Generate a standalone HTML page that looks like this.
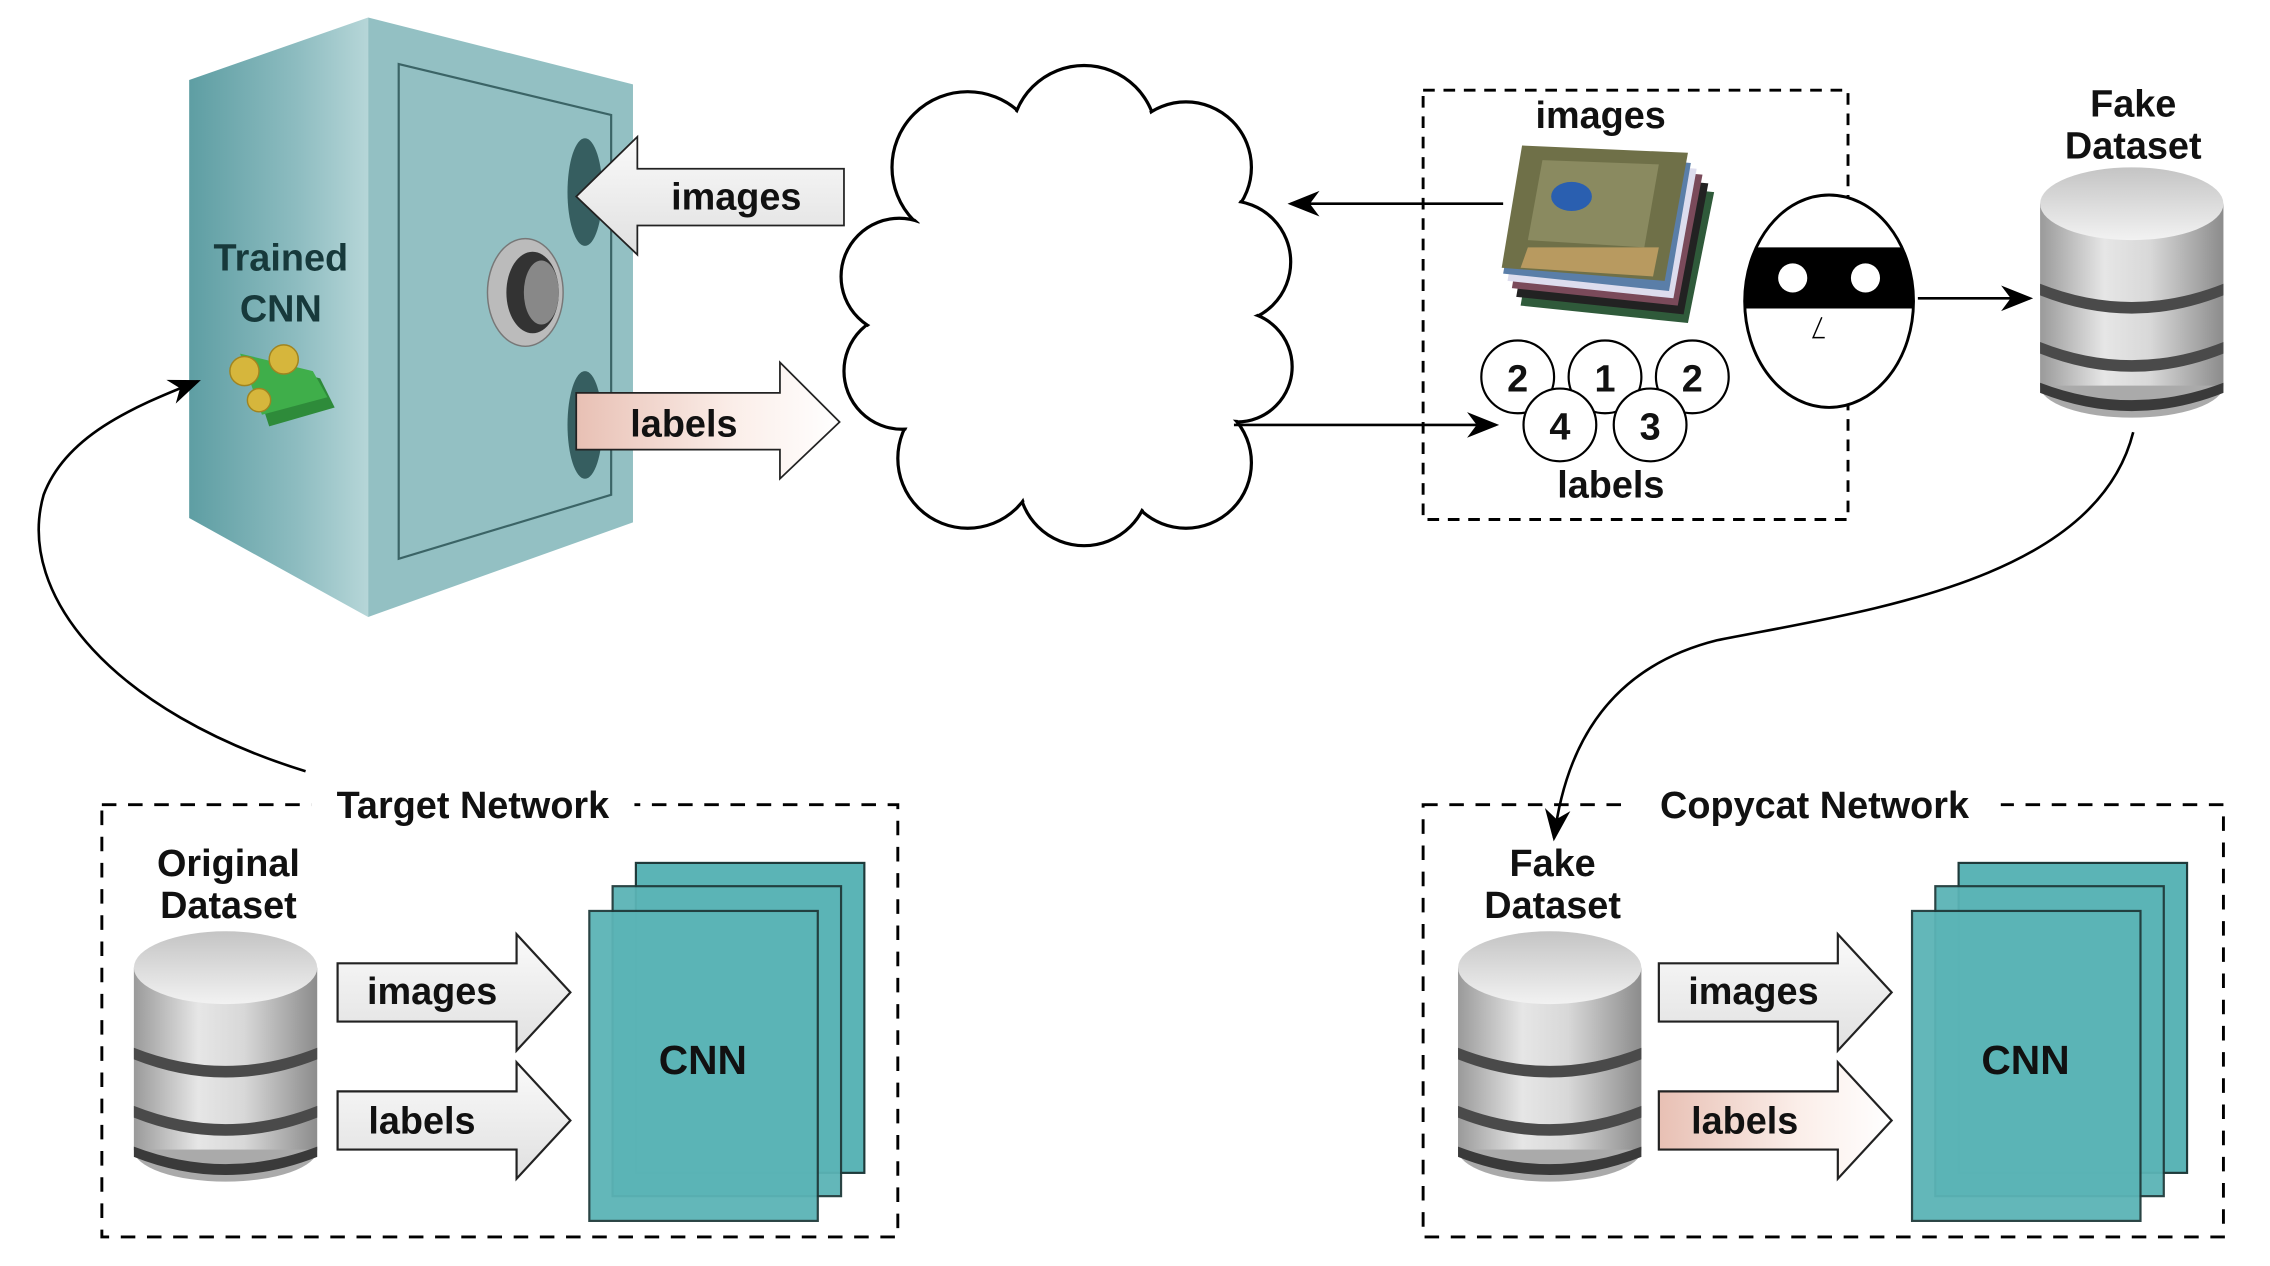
<!DOCTYPE html>
<html><head><meta charset="utf-8">
<style>
html,body{margin:0;padding:0;background:#fff;}
svg{display:block;}
text{font-family:"Liberation Sans",Arial,sans-serif;font-weight:bold;}
</style></head>
<body>
<svg width="2270" height="1266" viewBox="0 0 1560 870" preserveAspectRatio="none" xmlns="http://www.w3.org/2000/svg">
<defs>
  <linearGradient id="side" x1="0" x2="1" y1="0" y2="0">
    <stop offset="0" stop-color="#5e9ea3"/><stop offset="0.6" stop-color="#8dbcc0"/><stop offset="1" stop-color="#b6d6d8"/>
  </linearGradient>
  <linearGradient id="cyl" x1="0" x2="1" y1="0" y2="0">
    <stop offset="0" stop-color="#9a9a9a"/><stop offset="0.35" stop-color="#e6e6e6"/><stop offset="0.6" stop-color="#d8d8d8"/><stop offset="1" stop-color="#8c8c8c"/>
  </linearGradient>
  <linearGradient id="cyltop" x1="0" x2="0" y1="0" y2="1">
    <stop offset="0" stop-color="#c4c4c4"/><stop offset="1" stop-color="#f2f2f2"/>
  </linearGradient>
  <linearGradient id="arrG" x1="0" x2="0" y1="0" y2="1">
    <stop offset="0" stop-color="#fafafa"/><stop offset="1" stop-color="#e0e0e0"/>
  </linearGradient>
  <linearGradient id="arrP" x1="0" x2="1" y1="0" y2="0">
    <stop offset="0" stop-color="#e8c0b4"/><stop offset="0.6" stop-color="#fbeee9"/><stop offset="1" stop-color="#ffffff"/>
  </linearGradient>
  <marker id="ah" viewBox="0 0 10 10" refX="9" refY="5" markerWidth="8" markerHeight="8" orient="auto-start-reverse" markerUnits="userSpaceOnUse">
    <path d="M0,0 L10,5 L0,10 L3,5 z" fill="#000"/>
  </marker>
  <marker id="ah2" viewBox="0 0 10 10" refX="9" refY="5" markerWidth="22" markerHeight="22" orient="auto" markerUnits="userSpaceOnUse">
    <path d="M0,1 L10,5 L0,9 L3,5 z" fill="#000"/>
  </marker>
  <g id="db">
    <ellipse cx="63" cy="150" rx="63" ry="22" fill="#555" opacity="0.5"/>
    <rect x="0" y="25" width="126" height="125" fill="url(#cyl)"/>
    <path d="M0,80 Q63,105 126,80 L126,88 Q63,113 0,88 z" fill="#4a4a4a"/>
    <path d="M0,120 Q63,145 126,120 L126,128 Q63,153 0,128 z" fill="#4a4a4a"/>
    <path d="M0,148 Q63,172 126,148 L126,155 Q63,180 0,155 z" fill="#3a3a3a"/>
    <ellipse cx="63" cy="25" rx="63" ry="25" fill="url(#cyltop)"/>
  </g>
  <g id="arrow2">
    <path d="M0,20 L123,20 L123,0 L160,40 L123,80 L123,60 L0,60 z" fill="url(#arrG)" stroke="#222" stroke-width="1.5"/>
  </g>
  <g id="cnn">
    <rect x="32" y="0" width="157" height="213" fill="#5bb4b6" stroke="#1f3a3a" stroke-width="1.5"/>
    <rect x="16" y="16" width="157" height="213" fill="#5bb4b6" stroke="#1f3a3a" stroke-width="1.5" opacity="0.95"/>
    <rect x="0" y="33" width="157" height="213" fill="#5bb4b6" stroke="#1f3a3a" stroke-width="1.5" opacity="0.95"/>
  </g>
</defs>

<!-- Safe -->
<polygon points="130,55 253,12 253,424 130,356" fill="url(#side)"/>
<polygon points="253,12 435,58 435,359 253,424" fill="#93c0c3"/>
<polygon points="274,44 420,79 420,340 274,384" fill="none" stroke="#3b6466" stroke-width="1.5"/>
<ellipse cx="402" cy="132" rx="12" ry="37" fill="#365e60"/>
<ellipse cx="402" cy="292" rx="12" ry="37" fill="#365e60"/>
<ellipse cx="361" cy="201" rx="26" ry="37" fill="#bbb" stroke="#777"/>
<ellipse cx="366" cy="201" rx="18" ry="28" fill="#333"/>
<ellipse cx="372" cy="201" rx="12" ry="22" fill="#888"/>
<text x="193" y="186" font-size="26" fill="#17393b" text-anchor="middle">Trained</text>
<text x="193" y="221" font-size="26" fill="#17393b" text-anchor="middle">CNN</text>
<!-- money -->
<g transform="translate(190,265)">
  <polygon points="-20,-18 30,-5 40,15 -5,28" fill="#2e8b3a"/>
  <polygon points="-25,-22 25,-10 35,8 -10,20" fill="#3fae4a"/>
  <circle cx="-22" cy="-10" r="10" fill="#d6b63c" stroke="#a08420"/>
  <circle cx="5" cy="-18" r="10" fill="#d6b63c" stroke="#a08420"/>
  <circle cx="-12" cy="10" r="8" fill="#d6b63c" stroke="#a08420"/>
</g>
<!-- big arrows on safe -->
<path d="M396,135 L438,94 L438,116 L580,116 L580,155 L438,155 L438,175 z" fill="url(#arrG)" stroke="#222" stroke-width="1.2"/>
<text x="506" y="144" font-size="26" text-anchor="middle" fill="#111">images</text>
<path d="M396,270 L536,270 L536,249 L577,290 L536,329 L536,309 L396,309 z" fill="url(#arrP)" stroke="#222" stroke-width="1.2"/>
<text x="470" y="300" font-size="26" text-anchor="middle" fill="#111">labels</text>

<!-- curved arrow left -->
<path d="M210,530 C80,490 10,410 30,340 C45,300 90,280 136,262" fill="none" stroke="#000" stroke-width="1.8" marker-end="url(#ah2)"/>

<!-- cloud -->
<g stroke="#000" stroke-width="2.2" fill="#fff">
  <circle cx="665" cy="115" r="52"/><circle cx="745" cy="95" r="50"/><circle cx="815" cy="115" r="45"/>
  <circle cx="845" cy="180" r="42"/><circle cx="850" cy="252" r="38"/><circle cx="815" cy="318" r="45"/>
  <circle cx="745" cy="330" r="45"/><circle cx="665" cy="315" r="48"/><circle cx="620" cy="255" r="40"/>
  <circle cx="618" cy="190" r="40"/>
</g>
<g fill="#fff">
  <circle cx="665" cy="115" r="50.5"/><circle cx="745" cy="95" r="48.5"/><circle cx="815" cy="115" r="43.5"/>
  <circle cx="845" cy="180" r="40.5"/><circle cx="850" cy="252" r="36.5"/><circle cx="815" cy="318" r="43.5"/>
  <circle cx="745" cy="330" r="43.5"/><circle cx="665" cy="315" r="46.5"/><circle cx="620" cy="255" r="38.5"/>
  <circle cx="618" cy="190" r="38.5"/><circle cx="735" cy="215" r="120"/>
</g>

<!-- connectors top right -->
<line x1="1033" y1="140" x2="887" y2="140" stroke="#000" stroke-width="1.8" marker-end="url(#ah2)"/>
<line x1="848" y1="292" x2="1028" y2="292" stroke="#000" stroke-width="1.8" marker-end="url(#ah2)"/>
<rect x="978" y="62" width="292" height="295" fill="none" stroke="#000" stroke-width="2" stroke-dasharray="8,6"/>
<text x="1100" y="88" font-size="26" text-anchor="middle" fill="#111">images</text>
<!-- image stack -->
<g>
  <polygon points="1060,120 1178,132 1160,222 1045,210" fill="#2f5a3a"/>
  <polygon points="1057,115 1174,126 1157,216 1042,204" fill="#222"/>
  <polygon points="1054,110 1170,120 1153,210 1039,198" fill="#7a4a5a"/>
  <polygon points="1051,106 1166,116 1150,205 1036,193" fill="#dde"/>
  <polygon points="1048,102 1162,112 1147,200 1033,188" fill="#5a7ea8"/>
  <polygon points="1046,100 1160,105 1144,193 1032,184" fill="#6f7048"/>
  <polygon points="1060,110 1140,113 1130,170 1050,165" fill="#8a8a60"/>
  <ellipse cx="1080" cy="135" rx="14" ry="10" fill="#2a5fb0"/>
  <polygon points="1050,170 1140,170 1136,190 1045,184" fill="#b89a60"/>
</g>
<g stroke="#000" stroke-width="1.5" fill="#fff" font-size="26">
  <circle cx="1043" cy="259" r="25"/><circle cx="1103" cy="259" r="25"/><circle cx="1163" cy="259" r="25"/>
  <circle cx="1072" cy="292" r="25"/><circle cx="1134" cy="292" r="25"/>
</g>
<g font-size="26" text-anchor="middle" fill="#111">
  <text x="1043" y="269">2</text><text x="1103" y="269">1</text><text x="1163" y="269">2</text>
  <text x="1072" y="302">4</text><text x="1134" y="302">3</text>
  <text x="1107" y="342">labels</text>
</g>
<!-- thief face -->
<ellipse cx="1257" cy="207" rx="58" ry="73" fill="#fff" stroke="#000" stroke-width="2"/>
<clipPath id="fc"><ellipse cx="1257" cy="207" rx="58" ry="73"/></clipPath>
<rect x="1195" y="170" width="125" height="42" fill="#000" clip-path="url(#fc)"/>
<circle cx="1232" cy="191" r="10" fill="#fff"/><circle cx="1282" cy="191" r="10" fill="#fff"/>
<path d="M1252,218 L1246,232 L1254,232" fill="none" stroke="#000" stroke-width="1"/>
<line x1="1318" y1="205" x2="1395" y2="205" stroke="#000" stroke-width="1.8" marker-end="url(#ah2)"/>
<text x="1466" y="80" font-size="26" text-anchor="middle" fill="#111">Fake</text>
<text x="1466" y="109" font-size="26" text-anchor="middle" fill="#111">Dataset</text>
<use href="#db" x="1402" y="115"/>
<!-- curve right -->
<path d="M1466,297 C1440,400 1280,420 1180,440 C1100,460 1075,520 1068,576" fill="none" stroke="#000" stroke-width="1.8" marker-end="url(#ah2)"/>

<!-- Target network -->
<rect x="70" y="553" width="547" height="297" fill="none" stroke="#000" stroke-width="2" stroke-dasharray="10,8"/>
<rect x="214" y="535" width="222" height="32" fill="#fff"/>
<text x="325" y="562" font-size="26" text-anchor="middle" fill="#111">Target Network</text>
<text x="157" y="602" font-size="26" text-anchor="middle" fill="#111">Original</text>
<text x="157" y="631" font-size="26" text-anchor="middle" fill="#111">Dataset</text>
<use href="#db" x="92" y="640"/>
<use href="#arrow2" x="232" y="642"/>
<text x="297" y="690" font-size="26" text-anchor="middle" fill="#111">images</text>
<use href="#arrow2" x="232" y="730"/>
<text x="290" y="779" font-size="26" text-anchor="middle" fill="#111">labels</text>
<use href="#cnn" x="405" y="593"/>
<text x="483" y="738" font-size="28" text-anchor="middle" fill="#111">CNN</text>

<!-- Copycat network -->
<rect x="978" y="553" width="550" height="297" fill="none" stroke="#000" stroke-width="2" stroke-dasharray="10,8"/>
<rect x="1120" y="535" width="255" height="32" fill="#fff"/>
<text x="1247" y="562" font-size="26" text-anchor="middle" fill="#111">Copycat Network</text>
<text x="1067" y="602" font-size="26" text-anchor="middle" fill="#111">Fake</text>
<text x="1067" y="631" font-size="26" text-anchor="middle" fill="#111">Dataset</text>
<use href="#db" x="1002" y="640"/>
<use href="#arrow2" x="1140" y="642"/>
<text x="1205" y="690" font-size="26" text-anchor="middle" fill="#111">images</text>
<path d="M1140,750 L1263,750 L1263,730 L1300,770 L1263,810 L1263,790 L1140,790 z" fill="url(#arrP)" stroke="#222" stroke-width="1.5"/>
<text x="1199" y="779" font-size="26" text-anchor="middle" fill="#111">labels</text>
<use href="#cnn" x="1314" y="593"/>
<text x="1392" y="738" font-size="28" text-anchor="middle" fill="#111">CNN</text>
</svg>
</body></html>
